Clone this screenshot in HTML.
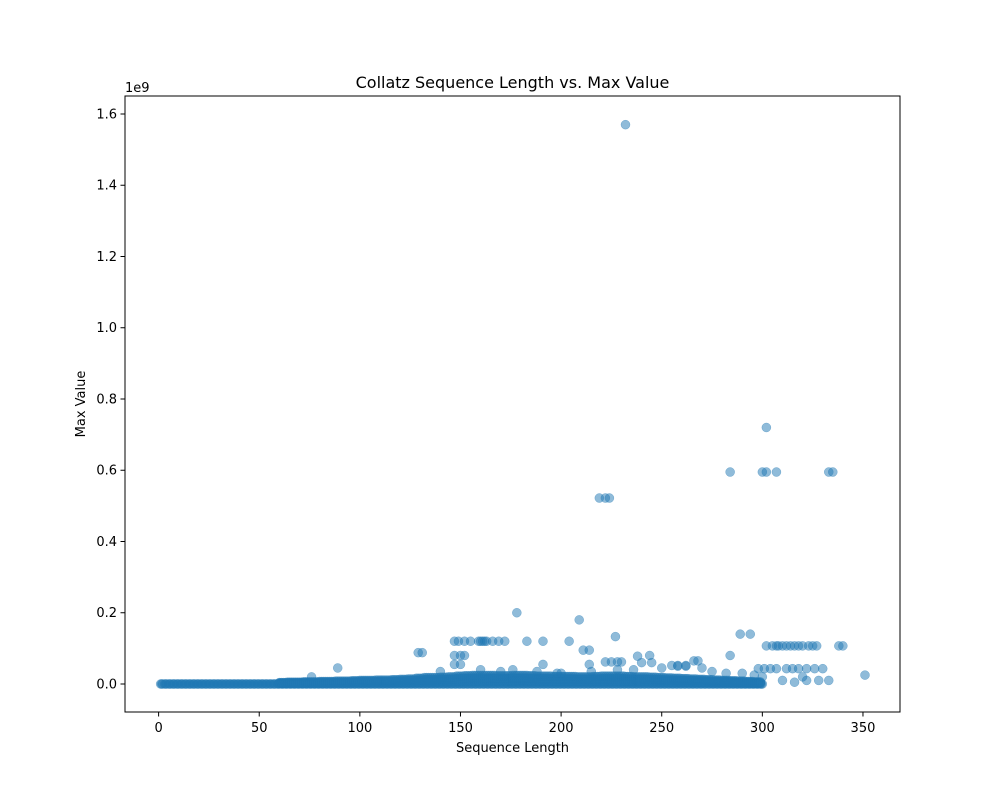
<!DOCTYPE html>
<html><head><meta charset="utf-8">
<style>
html,body{margin:0;padding:0;background:#fff;}
svg text{font-family:"DejaVu Sans","Liberation Sans",sans-serif;fill:#000;}
</style></head>
<body>
<svg id="chart" width="1000" height="800" viewBox="0 0 1000 800" xmlns="http://www.w3.org/2000/svg">
<rect width="1000" height="800" fill="#fff"/>
<text x="512.5" y="88" text-anchor="middle" font-size="16">Collatz Sequence Length vs. Max Value</text>
<g id="points"></g>
<rect x="125" y="96" width="775" height="616" fill="none" stroke="#000" stroke-width="1"/>
<g id="xticks"></g>
<g id="yticks"></g>
<text x="125" y="92" font-size="13">1e9</text>
<text x="512.5" y="752" text-anchor="middle" font-size="13">Sequence Length</text>
<text transform="translate(85,404) rotate(-90)" text-anchor="middle" font-size="13">Max Value</text>
</svg>
<script>
const xTicks=[0,50,100,150,200,250,300,350];
const yTicks=[0.0,0.2,0.4,0.6,0.8,1.0,1.2,1.4,1.6];
const yTickLabels=["0.0","0.2","0.4","0.6","0.8","1.0","1.2","1.4","1.6"];
const bandX=[1,3,5,7,9,11,13,15,17,19,21,23,25,27,29,31,33,35,37,39,41,43,45,47,49,51,53,55,57,59,61,63,65,67,69,71,73,75,77,79,81,83,85,87,89,91,93,95,97,99,101,103,105,107,109,111,113,115,117,119,121,123,125,127,129,131,133,135,137,139,141,143,145,147,149,151,153,155,157,159,161,163,165,167,169,171,173,175,177,179,181,183,185,187,189,191,193,195,197,199,201,203,205,207,209,211,213,215,217,219,221,223,225,227,229,231,233,235,237,239,241,243,245,247,249,251,253,255,257,259,261,263,265,267,269,271,273,275,277,279,281,283,285,287,289,291,293,295,297,299];
const bandY=[0,0,0,0,0,0,0,0,0,0,0,0,0,0,0,0,0,0,0,0,0,0,0,0,0,0,0,0,0,0,0,0,0,0,0,0,0,0,0,0,0,0,0,0,0,0,0,0,0,0,0,0,0,0,0,0,0,0,0,0,0,0,0,0,0,0,0,0,0,0,0,0,0,0,0,0,0,0,0,0,0,0,0,0,0,0,0,0,0,0,0,0,0,0,0,0,0,0,0,0,0,0,0,0,0,0,0,0,0,0,0,0,0,0,0,0,0,0,0,0,0,0,0,0,0,0,0,0,0,0,0,0,0,0,0,0,0,0,0,0,0,0,0,0,0,0,0,0,0,0];
const upX=[60,64,68,72,76,80,84,88,92,96,100,104,108,112,116,120,124,128,132,136,140,144,148,152,156,160,164,168,172,176,180,184,188,192,196,200,204,208,212,216,220,224,228,232,236,240,244,248,252,256,260,264,268,272,276,280,284,288,292,296];
const upY=[0.004,0.005,0.005,0.006,0.006,0.007,0.007,0.008,0.008,0.009,0.01,0.01,0.011,0.011,0.012,0.013,0.014,0.016,0.018,0.018,0.019,0.02,0.022,0.023,0.024,0.024,0.024,0.023,0.023,0.024,0.024,0.023,0.022,0.022,0.021,0.021,0.021,0.02,0.02,0.021,0.022,0.022,0.022,0.021,0.02,0.02,0.019,0.018,0.017,0.016,0.015,0.014,0.013,0.012,0.011,0.01,0.009,0.008,0.007,0.006];
const outX=[232,302,284,300,302,307,333,335,219,222,224,178,209,289,294,227,147,149,152,155,159,160,161,162,163,166,169,172,183,191,204,129,131,302,305,307,308,310,312,314,316,318,320,323,325,327,338,340,147,150,152,244,284,238,211,214,147,150,191,214,222,225,228,230,89,298,301,304,307,312,315,318,322,326,330,266,268,255,258,262,240,245,351,333,328,320,316,300,310,322,76,140,200,176,160,170,188,198,215,228,236,250,258,262,270,275,282,290,296];
const outY=[1.57,0.72,0.595,0.595,0.595,0.595,0.595,0.595,0.522,0.522,0.522,0.2,0.18,0.14,0.14,0.133,0.12,0.12,0.12,0.12,0.12,0.12,0.12,0.12,0.12,0.12,0.12,0.12,0.12,0.12,0.12,0.088,0.088,0.107,0.107,0.107,0.107,0.107,0.107,0.107,0.107,0.107,0.107,0.107,0.107,0.107,0.107,0.107,0.08,0.08,0.08,0.08,0.08,0.078,0.095,0.095,0.055,0.055,0.055,0.055,0.062,0.062,0.062,0.062,0.045,0.043,0.043,0.043,0.043,0.043,0.043,0.043,0.043,0.043,0.043,0.065,0.065,0.052,0.052,0.052,0.06,0.06,0.025,0.01,0.01,0.02,0.005,0.02,0.01,0.01,0.02,0.035,0.03,0.04,0.04,0.035,0.035,0.03,0.035,0.04,0.04,0.045,0.05,0.05,0.045,0.035,0.03,0.03,0.025];
const X0=125,X1=900,Y0=712,Y1=96,XMIN=-16.7,XMAX=368.4,YMIN=-0.0786,YMAX=1.6505;
function sx(v){return X0+(v-XMIN)/(XMAX-XMIN)*(X1-X0);}
function sy(v){return Y0-(v-YMIN)/(YMAX-YMIN)*(Y0-Y1);}
const NS="http://www.w3.org/2000/svg";
const pts=document.getElementById('points');
function dot(x,y){
  const c=document.createElementNS(NS,'circle');
  
  
  c.setAttribute('cx',sx(x));c.setAttribute('cy',sy(y));c.setAttribute('r',4.5);
  c.setAttribute('fill','#1f77b4');c.setAttribute('fill-opacity','0.5');
  c.setAttribute('stroke','#1f77b4');c.setAttribute('stroke-opacity','0.5');c.setAttribute('stroke-width','0.5');
  pts.appendChild(c);
}
bandX.forEach((x,i)=>{dot(x,bandY[i]);dot(x+1,bandY[i]);dot(x+0.5,bandY[i]);});
upX.forEach((x,i)=>{
  for(let k=0;k<4;k++){dot(x+k,upY[i]);dot(x+k,upY[i]*2/3);dot(x+k,upY[i]/3);}
});
outX.forEach((x,i)=>dot(x,outY[i]));
const xt=document.getElementById('xticks');
xTicks.forEach(t=>{
  const l=document.createElementNS(NS,'line');
  
  
  l.setAttribute('x1',sx(t));l.setAttribute('x2',sx(t));l.setAttribute('y1',712);l.setAttribute('y2',716.5);l.setAttribute('stroke','#000');
  xt.appendChild(l);
  const tx=document.createElementNS(NS,'text');
  
  
  tx.setAttribute('x',sx(t));tx.setAttribute('y',732);tx.setAttribute('text-anchor','middle');tx.setAttribute('font-size','13');
  tx.textContent=t;xt.appendChild(tx);
});
const yt=document.getElementById('yticks');
yTicks.forEach((t,i)=>{
  const l=document.createElementNS(NS,'line');
  
  
  l.setAttribute('x1',120.5);l.setAttribute('x2',125);l.setAttribute('y1',sy(t));l.setAttribute('y2',sy(t));l.setAttribute('stroke','#000');
  yt.appendChild(l);
  const tx=document.createElementNS(NS,'text');
  
  
  tx.setAttribute('x',117);tx.setAttribute('y',sy(t)+4.5);tx.setAttribute('text-anchor','end');tx.setAttribute('font-size','13');
  tx.textContent=yTickLabels[i];yt.appendChild(tx);
});
</script>
</body></html>
